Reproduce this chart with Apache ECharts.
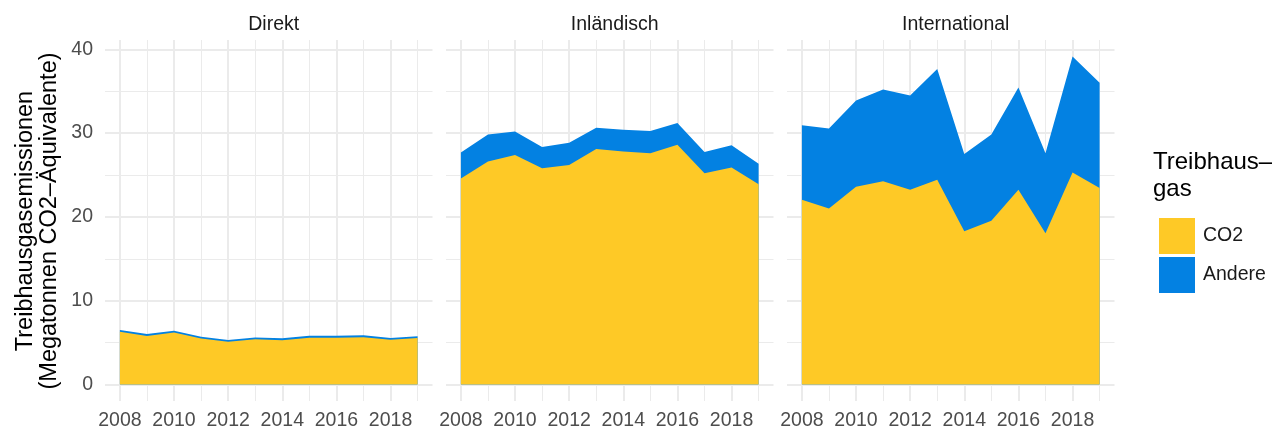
<!DOCTYPE html>
<html>
<head>
<meta charset="utf-8">
<script src="https://cdn.jsdelivr.net/npm/echarts@6/dist/echarts.min.js"></script>
<style>
  html, body { margin: 0; padding: 0; background: #fff; }
  #main { width: 1272px; height: 431px; }
</style>
</head>
<body>
<div id="main"></div>
<script>
// Daten
var years = [2008, 2009, 2010, 2011, 2012, 2013, 2014, 2015, 2016, 2017, 2018, 2019];
var panels = ['Direkt', 'Inländisch', 'International'];
var gases = ['CO2', 'Andere'];

var direktCO2 = [6.3, 5.8, 6.2, 5.5, 5.1, 5.4, 5.3, 5.6, 5.6, 5.65, 5.35, 5.55];
var direktAndere = [0.22, 0.22, 0.22, 0.22, 0.22, 0.22, 0.22, 0.22, 0.22, 0.22, 0.22, 0.22];
var inlandCO2 = [24.6, 26.6, 27.4, 25.8, 26.2, 28.1, 27.8, 27.6, 28.6, 25.2, 25.9, 23.9];
var inlandAndere = [3.1, 3.25, 2.8, 2.55, 2.65, 2.55, 2.6, 2.65, 2.6, 2.55, 2.65, 2.45];
var interCO2 = [22.05, 21.0, 23.6, 24.25, 23.25, 24.45, 18.3, 19.55, 23.25, 18.05, 25.3, 23.45];
var interAndere = [8.9, 9.55, 10.3, 10.95, 11.25, 13.2, 9.2, 10.3, 12.2, 9.55, 13.85, 12.55];

var xMajor = [2008, 2010, 2012, 2014, 2016, 2018];
var xMinor = [2009, 2011, 2013, 2015, 2017, 2019];
var yMajor = [0, 10, 20, 30, 40];
var yMinor = [5, 15, 25, 35];

var values = [[direktCO2, direktAndere], [inlandCO2, inlandAndere], [interCO2, interAndere]];
var colors = ['#FEC926', '#0381E2'];

var font = "'Liberation Sans', Arial, sans-serif";
var gridColor = '#EBEBEB';
var xMin = 2007.45, xMax = 2019.55;
var yMin = -1.96, yMax = 41.11;

var gridLeft = [105, 446, 787];
var gridW = 327.5;
var gridTop = 40, gridH = 363;

var grids = [], xAxes = [], yAxes = [], series = [], titles = [];

gridLeft.forEach(function (left, p) {
  grids.push({ left: left, top: gridTop, width: gridW, height: gridH });

  // Hauptlinien
  xAxes.push({
    type: 'value', gridIndex: p, min: xMin, max: xMax,
    axisLine: { show: false },
    axisTick: { show: false, customValues: xMajor },
    axisLabel: {
      customValues: xMajor, color: '#4D4D4D', fontSize: 19.5, fontFamily: font, margin: 10,
      formatter: function (v) { return String(v); }
    },
    splitLine: { show: true, lineStyle: { color: gridColor, width: 2 } }
  });
  // Nebenlinien
  xAxes.push({
    type: 'value', gridIndex: p, min: xMin, max: xMax, position: 'top',
    axisLine: { show: false },
    axisTick: { show: false, customValues: xMinor },
    axisLabel: { show: false, customValues: xMinor },
    splitLine: { show: true, lineStyle: { color: gridColor, width: 1 } }
  });

  yAxes.push({
    type: 'value', gridIndex: p, min: yMin, max: yMax,
    axisLine: { show: false },
    axisTick: { show: false, customValues: yMajor },
    axisLabel: { show: p === 0, customValues: yMajor, color: '#4D4D4D', fontSize: 19.5, fontFamily: font, margin: 12 },
    splitLine: { show: true, lineStyle: { color: gridColor, width: 2 } }
  });
  yAxes.push({
    type: 'value', gridIndex: p, min: yMin, max: yMax, position: 'right',
    axisLine: { show: false },
    axisTick: { show: false, customValues: yMinor },
    axisLabel: { show: false, customValues: yMinor },
    splitLine: { show: true, lineStyle: { color: gridColor, width: 1 } }
  });

  // gestapelt: Andere liegt auf CO2, Fläche von 0 bis zur Summe hinter CO2
  var co2 = values[p][0], andere = values[p][1];
  var stacked = [
    years.map(function (y, i) { return [y, co2[i]]; }),
    years.map(function (y, i) { return [y, co2[i] + andere[i]]; })
  ];
  gases.forEach(function (g, k) {
    series.push({
      name: g,
      type: 'line',
      xAxisIndex: p * 2,
      yAxisIndex: p * 2,
      data: stacked[k],
      showSymbol: false,
      symbol: 'none',
      lineStyle: { width: 0 },
      itemStyle: { color: colors[k] },
      areaStyle: { color: colors[k], opacity: 1, origin: 0 },
      z: 3 - k
    });
  });

  titles.push({
    text: panels[p],
    left: left + gridW / 2,
    top: 10,
    textAlign: 'center',
    textStyle: { color: '#1A1A1A', fontSize: 19.5, fontWeight: 'normal', fontFamily: font }
  });
});

var chart = echarts.init(document.getElementById('main'));
chart.setOption({
  animation: false,
  title: titles,
  grid: grids,
  xAxis: xAxes,
  yAxis: yAxes,
  series: series,
  legend: {
    data: gases,
    orient: 'vertical',
    left: 1154,
    top: 213,
    itemWidth: 36,
    itemHeight: 36,
    itemGap: 3,
    icon: 'rect',
    selectedMode: false,
    textStyle: { color: '#1A1A1A', fontSize: 19.5, fontFamily: font, padding: [0, 0, 0, 3] }
  },
  graphic: [
    {
      type: 'text',
      left: 1153,
      top: 149,
      style: {
        text: 'Treibhaus\u2013\ngas',
        fill: '#000',
        font: '24px ' + font,
        lineHeight: 27
      }
    },
    {
      type: 'text',
      x: 38,
      y: 221,
      rotation: Math.PI / 2,
      style: {
        text: 'Treibhausgasemissionen\n(Megatonnen CO2\u2013Äquivalente)',
        fill: '#000',
        font: '23.5px ' + font,
        lineHeight: 24,
        align: 'center',
        verticalAlign: 'middle'
      }
    }
  ]
});
</script>
</body>
</html>
